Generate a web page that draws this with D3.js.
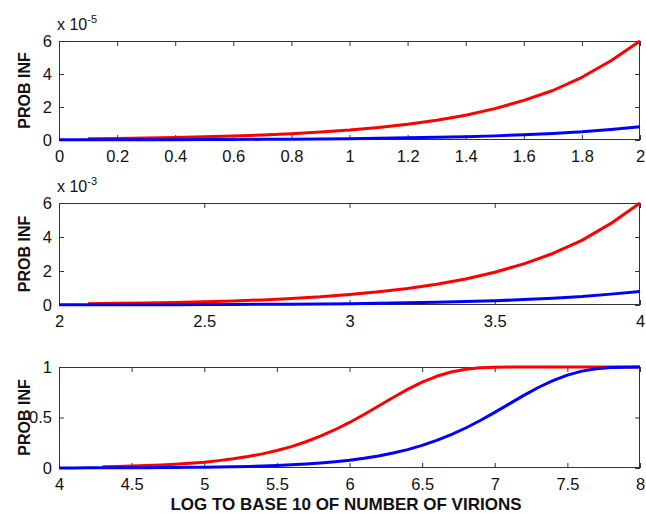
<!DOCTYPE html>
<html>
<head>
<meta charset="utf-8">
<script src="https://cdnjs.cloudflare.com/ajax/libs/d3/7.8.5/d3.min.js"></script>
<style>
  html, body { margin: 0; padding: 0; background: #fff; }
  svg { display: block; }
  text { font-family: "Liberation Sans", Arial, sans-serif; fill: #111; }
</style>
</head>
<body>
<svg id="chart" width="646" height="513"></svg>
<script>
// ---------- DATA ----------
// Panel 1 (values in units of 1e-5)
const p1RedX  = [0.1,0.2,0.3,0.4,0.5,0.6,0.7,0.8,0.9,1.0,1.1,1.2,1.3,1.4,1.5,1.6,1.7,1.8,1.9,2.0];
const p1Red   = [0.076,0.095,0.12,0.15,0.19,0.24,0.30,0.38,0.48,0.60,0.76,0.95,1.2,1.5,1.9,2.4,3.0,3.8,4.8,6.0];
const p1BlueX = [0,0.1,0.2,0.3,0.4,0.5,0.6,0.7,0.8,0.9,1.0,1.1,1.2,1.3,1.4,1.5,1.6,1.7,1.8,1.9,2.0];
const p1Blue  = [0.008,0.010,0.013,0.016,0.020,0.025,0.032,0.040,0.050,0.064,0.080,0.10,0.13,0.16,0.20,0.25,0.32,0.40,0.50,0.64,0.80];
const p1XTicks = [0,0.2,0.4,0.6,0.8,1,1.2,1.4,1.6,1.8,2];
const p1YTicks = [0,2,4,6];

// Panel 2 (values in units of 1e-3)
const p2RedX  = [2.1,2.2,2.3,2.4,2.5,2.6,2.7,2.8,2.9,3.0,3.1,3.2,3.3,3.4,3.5,3.6,3.7,3.8,3.9,4.0];
const p2Red   = [0.08,0.10,0.12,0.15,0.19,0.24,0.30,0.38,0.48,0.62,0.78,0.97,1.22,1.53,1.93,2.42,3.03,3.8,4.8,6.0];
const p2BlueX = [2.0,2.1,2.2,2.3,2.4,2.5,2.6,2.7,2.8,2.9,3.0,3.1,3.2,3.3,3.4,3.5,3.6,3.7,3.8,3.9,4.0];
const p2Blue  = [0.008,0.010,0.013,0.016,0.020,0.025,0.032,0.040,0.050,0.064,0.080,0.10,0.13,0.16,0.20,0.25,0.32,0.40,0.50,0.64,0.80];
const p2XTicks = [2,2.5,3,3.5,4];
const p2YTicks = [0,2,4,6];

// Panel 3 (probability)
const p3RedX  = [4.3,4.4,4.5,4.6,4.7,4.8,4.9,5.0,5.1,5.2,5.3,5.4,5.5,5.6,5.7,5.8,5.9,6.0,6.1,6.2,6.3,6.4,6.5,6.6,6.7,6.8,6.9,7.0,7.1,7.2,7.4,7.6,7.8,8.0];
const p3Red   = [0.012,0.015,0.019,0.024,0.030,0.037,0.047,0.058,0.073,0.091,0.113,0.140,0.173,0.212,0.260,0.315,0.379,0.451,0.530,0.614,0.698,0.778,0.850,0.908,0.951,0.977,0.992,0.997,0.9995,1,1,1,1,1];
const p3BlueX = [4.0,4.1,4.2,4.3,4.4,4.5,4.6,4.7,4.8,4.9,5.0,5.1,5.2,5.3,5.4,5.5,5.6,5.7,5.8,5.9,6.0,6.1,6.2,6.3,6.4,6.5,6.6,6.7,6.8,6.9,7.0,7.1,7.2,7.3,7.4,7.5,7.6,7.7,7.8,7.9,8.0];
const p3Blue  = [0.001,0.001,0.0013,0.0016,0.002,0.0025,0.0032,0.004,0.005,0.0064,0.008,0.010,0.0126,0.016,0.020,0.025,0.031,0.039,0.049,0.062,0.077,0.096,0.119,0.148,0.182,0.224,0.273,0.330,0.396,0.470,0.551,0.635,0.719,0.797,0.866,0.920,0.959,0.982,0.994,0.998,1.0];
const p3XTicks = [4,4.5,5,5.5,6,6.5,7,7.5,8];
const p3YTicks = [0,0.5,1];

const yLabel = "PROB INF";
const xTitle = "LOG TO BASE 10 OF NUMBER OF VIRIONS";
const exponents = ["-5", "-3", null];

// ---------- LAYOUT ----------
const svg = d3.select("#chart");
const left = 59, right = 640;
const panels = [
  { top: 41,  bottom: 140, xDomain: [0,2], yDomain: [0,6], xTicks: p1XTicks, yTicks: p1YTicks,
    red: p1RedX.map((x,i)=>[x,p1Red[i]]), blue: p1BlueX.map((x,i)=>[x,p1Blue[i]]), exp: exponents[0] },
  { top: 203, bottom: 305, xDomain: [2,4], yDomain: [0,6], xTicks: p2XTicks, yTicks: p2YTicks,
    red: p2RedX.map((x,i)=>[x,p2Red[i]]), blue: p2BlueX.map((x,i)=>[x,p2Blue[i]]), exp: exponents[1] },
  { top: 367, bottom: 468, xDomain: [4,8], yDomain: [0,1], xTicks: p3XTicks, yTicks: p3YTicks,
    red: p3RedX.map((x,i)=>[x,p3Red[i]]), blue: p3BlueX.map((x,i)=>[x,p3Blue[i]]), exp: exponents[2] }
];

const tickFmt = d => String(d);

panels.forEach(p => {
  const x = d3.scaleLinear().domain(p.xDomain).range([left, right]);
  const y = d3.scaleLinear().domain(p.yDomain).range([p.bottom, p.top]);
  const g = svg.append("g");

  g.append("rect").attr("x", left).attr("y", p.top)
    .attr("width", right-left).attr("height", p.bottom-p.top)
    .attr("fill", "#fff");

  const styleAxis = (sel) => {
    sel.select(".domain").remove();
    sel.selectAll(".tick line").attr("stroke", "#333").attr("stroke-width", 1);
    sel.selectAll(".tick text").attr("font-size", 16.5).attr("fill", "#111")
      .style("font-family", "'Liberation Sans', Arial, sans-serif");
  };

  g.append("g").attr("transform", `translate(0,${p.bottom})`)
    .call(d3.axisBottom(x).tickValues(p.xTicks).tickFormat(tickFmt).tickSizeInner(-5).tickSizeOuter(0).tickPadding(10))
    .call(styleAxis);
  g.append("g").attr("transform", `translate(0,${p.top})`)
    .call(d3.axisTop(x).tickValues(p.xTicks).tickFormat("").tickSizeInner(-5).tickSizeOuter(0))
    .call(styleAxis);
  g.append("g").attr("transform", `translate(${left},0)`)
    .call(d3.axisLeft(y).tickValues(p.yTicks).tickFormat(tickFmt).tickSizeInner(-5).tickSizeOuter(0).tickPadding(7))
    .call(styleAxis);
  g.append("g").attr("transform", `translate(${right},0)`)
    .call(d3.axisRight(y).tickValues(p.yTicks).tickFormat("").tickSizeInner(-5).tickSizeOuter(0))
    .call(styleAxis);

  g.append("rect").attr("x", left+0.5).attr("y", p.top+0.5)
    .attr("width", right-left-1).attr("height", p.bottom-p.top-1)
    .attr("fill", "none").attr("stroke", "#333").attr("stroke-width", 1);

  const line = d3.line().x(d => x(d[0])).y(d => y(d[1]));
  g.append("path").datum(p.red).attr("d", line)
    .attr("fill", "none").attr("stroke", "#ff0000").attr("stroke-width", 3).attr("stroke-linejoin", "round");
  g.append("path").datum(p.blue).attr("d", line)
    .attr("fill", "none").attr("stroke", "#0000ff").attr("stroke-width", 3).attr("stroke-linejoin", "round");

  g.append("text")
    .attr("transform", `translate(30,${(p.top+p.bottom)/2}) rotate(-90)`)
    .attr("text-anchor", "middle").attr("font-size", 16).attr("font-weight", "bold")
    .text(yLabel);

  if (p.exp) {
    const t = g.append("text").attr("x", 57).attr("y", p.top - 11).attr("font-size", 16);
    t.append("tspan").text("x 10");
    t.append("tspan").attr("dy", -7).attr("font-size", 11).text(p.exp);
  }
});

svg.append("text").attr("x", 346).attr("y", 510)
  .attr("text-anchor", "middle").attr("font-size", 17).attr("font-weight", "bold")
  .text(xTitle);
</script>
</body>
</html>
